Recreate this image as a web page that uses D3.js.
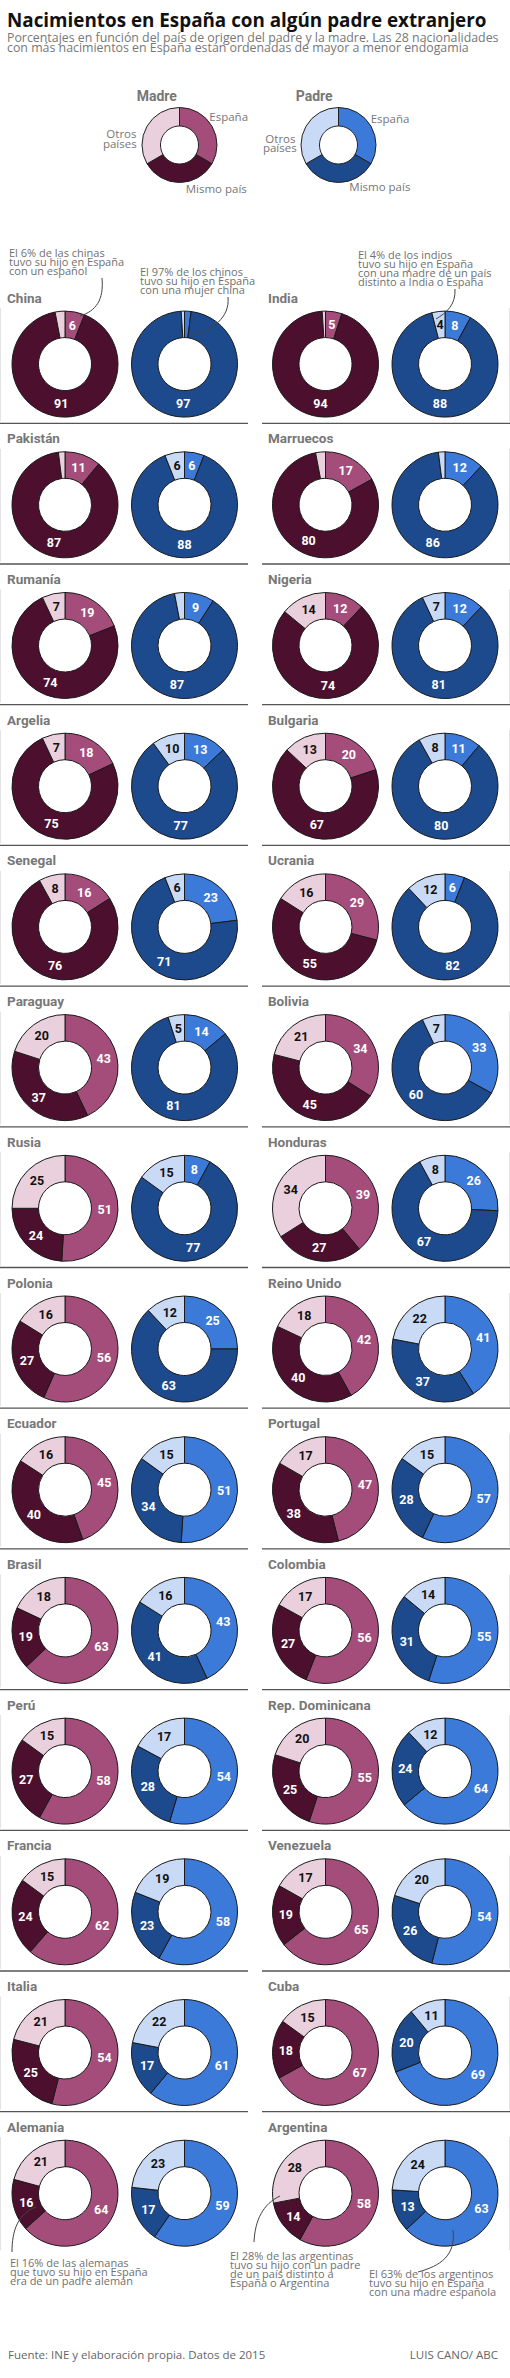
<!DOCTYPE html>
<html><head><meta charset="utf-8">
<script src="https://cdn.jsdelivr.net/npm/d3@7"></script>
<style>body{margin:0;background:#fff} svg{display:block}</style>
</head><body>
<svg id="c" width="510" height="2378"></svg>
<script>
// ---- DATA ----
const countries = ["China","India","Pakistán","Marruecos","Rumanía","Nigeria","Argelia","Bulgaria",
  "Senegal","Ucrania","Paraguay","Bolivia","Rusia","Honduras","Polonia","Reino Unido",
  "Ecuador","Portugal","Brasil","Colombia","Perú","Rep. Dominicana","Francia","Venezuela",
  "Italia","Cuba","Alemania","Argentina"];
const segments = ["España","Mismo país","Otros países"];
const madreEspana = [6,5,11,17,19,12,18,20,16,29,43,34,51,39,56,42,45,47,63,56,58,55,62,65,54,67,64,58];
const madreMismo  = [91,94,87,80,74,74,75,67,76,55,37,45,24,27,27,40,40,38,19,27,27,25,24,19,25,18,16,14];
const madreOtros  = [3,1,2,3,7,14,7,13,8,16,20,21,25,34,16,18,16,17,18,17,15,20,15,17,21,15,21,28];
const padreEspana = [2,8,6,12,9,12,13,11,23,6,14,33,8,26,25,41,51,57,43,55,54,64,58,54,61,69,59,63];
const padreMismo  = [97,88,88,86,87,81,77,80,71,82,81,60,77,67,63,37,34,28,41,31,28,24,23,26,17,20,17,13];
const padreOtros  = [1,4,6,2,3,7,10,8,6,12,5,7,15,8,12,22,15,15,16,14,17,12,19,20,22,11,23,24];
const legendValues = [1,1,1];

const title = "Nacimientos en España con algún padre extranjero";
const subtitle = ["Porcentajes en función del país de origen del padre y la madre. Las 28 nacionalidades",
                  "con más nacimientos en España están ordenadas de mayor a menor endogamia"];
const source = "Fuente: INE y elaboración propia. Datos de 2015";
const credit = "LUIS CANO/ ABC";

// ---- STYLE ----
const colorsMadre = ['#a44d7a','#4c0f2e','#ead0dd'];
const colorsPadre = ['#3c7ad9','#1c4a8c','#c8daf5'];
const labelColors = ['#fff','#fff','#111'];
const gray = '#777';

const svg = d3.select('#c');
const pie = d3.pie().sort(null).value(d => d);
const R = 53, r = 26.5;
const arcBig = d3.arc().innerRadius(r).outerRadius(R);
const arcLeg = d3.arc().innerRadius(19).outerRadius(37.5);

function fitWidth(sel, w){
  const l = sel.node().getComputedTextLength();
  const fs = parseFloat(sel.attr('font-size'));
  const nf = fs * w / l;
  sel.attr('font-size', nf);
  return nf;
}

// ---- HEADER ----
const t = svg.append('text').attr('x',7).attr('y',26.7).text(title)
  .attr('font-family','"Open Sans"').attr('font-weight',700).attr('font-size',18).attr('fill','#111');
fitWidth(t, 480);
const s1 = svg.append('text').attr('x',7).attr('y',42.3).text(subtitle[0])
  .attr('font-family','"Open Sans"').attr('font-size',11.5).attr('fill',gray);
const sfs = fitWidth(s1, 492);
svg.append('text').attr('x',7).attr('y',52.3).text(subtitle[1])
  .attr('font-family','"Open Sans"').attr('font-size',sfs).attr('fill',gray);

// ---- LEGEND ----
function legend(cx, cy, colors, name, nameX, labels){
  const g = svg.append('g').attr('transform',`translate(${cx},${cy})`);
  g.selectAll('path').data(pie(legendValues)).join('path')
    .attr('d', arcLeg).attr('fill',(d,i)=>colors[i]).attr('stroke','#222').attr('stroke-width',1);
  svg.append('text').attr('x',nameX).attr('y',100.7).text(name)
    .attr('font-family','Roboto').attr('font-weight',700).attr('font-size',14).attr('fill',gray);
  labels.forEach(l=>{
    svg.append('text').attr('x',l[0]).attr('y',l[1]).attr('text-anchor',l[3]||'start').text(l[2])
      .attr('font-family','"Open Sans"').attr('font-size',11.5).attr('fill',gray);
  });
}
legend(179.5,145,colorsMadre,'Madre',136.7,[[209.3,120.7,'España'],[136.5,138.3,'Otros','end'],[136.7,147.7,'países','end'],[185.7,192.5,'Mismo país']]);
legend(338.5,145,colorsPadre,'Padre',295.7,[[370.7,123.3,'España'],[295.5,142.7,'Otros','end'],[296.7,151.7,'países','end'],[349.3,190.7,'Mismo país']]);

// ---- GRID ----
const rowY = d3.scaleLinear().domain([0,13]).range([364.1, 364.1 + 140.7*13]);
const colOff = [0, 261];
const cellCx = [65, 184.5];

// separators
for (let i=0;i<13;i++){
  const y = rowY(i) + 59.2;
  svg.append('line').attr('x1',0).attr('x2',248).attr('y1',y).attr('y2',y).attr('stroke','#555').attr('stroke-width',1.3);
  svg.append('line').attr('x1',262).attr('x2',510).attr('y1',y).attr('y2',y).attr('stroke','#555').attr('stroke-width',1.3);
}
// faint side borders
for (let i=0;i<14;i++){
  const y = rowY(i);
  [0.5,509.5].forEach(x=>svg.append('line').attr('x1',x).attr('x2',x).attr('y1',y-56).attr('y2',y+57)
    .attr('stroke','#e3e3e3').attr('stroke-width',1));
}

countries.forEach((c,k)=>{
  const row = Math.floor(k/2), col = k%2;
  const cy = rowY(row);
  svg.append('text').attr('x',colOff[col]+7).attr('y',cy-61.5).text(c)
    .attr('font-family','Roboto').attr('font-weight',700).attr('font-size',13.5).attr('fill',gray);
  const sets = [
    {vals:[madreEspana[k],madreMismo[k],madreOtros[k]], colors:colorsMadre},
    {vals:[padreEspana[k],padreMismo[k],padreOtros[k]], colors:colorsPadre}
  ];
  sets.forEach((st,j)=>{
    const cx = colOff[col] + cellCx[j] - (col===1 ? 0.5 : 0);
    const g = svg.append('g').attr('transform',`translate(${cx},${cy})`);
    const arcs = pie(st.vals);
    g.selectAll('path').data(arcs).join('path')
      .attr('d',arcBig).attr('fill',(d,i)=>st.colors[i]).attr('stroke','#1a1a1a').attr('stroke-width',1);
    g.selectAll('text').data(arcs.filter(d=>d.data>=4)).join('text')
      .attr('transform',d=>`translate(${arcBig.centroid(d)})`)
      .attr('text-anchor','middle').attr('dy','0.36em')
      .attr('font-family','Roboto').attr('font-weight',700).attr('font-size',12.5)
      .attr('fill',d=>labelColors[d.index])
      .text(d=>d.data);
  });
});

// ---- ANNOTATIONS ----
const annotations = [
  {lines:["El 6% de las chinas","tuvo su hijo en España","con un español"], x:9, y:257, path:"M102,278 C104,300 96,311 80,316"},
  {lines:["El 97% de los chinos","tuvo su hijo en España","con una mujer china"], x:140, y:276, path:"M228,297 C230,318 212,330 192,336"},
  {lines:["El 4% de los indios","tuvo su hijo en España","con una madre de un país","distinto a India o España"], x:358, y:259, path:"M455,289 C456,305 446,313 436,319"},
  {lines:["El 16% de las alemanas","que tuvo su hijo en España","era de un padre alemán"], x:10, y:2267, path:"M36,2207 C18,2214 12,2230 12,2252"},
  {lines:["El 28% de las argentinas","tuvo su hijo con un padre","de un país distinto a","España o Argentina"], x:230, y:2260, path:"M280,2196 C263,2204 255,2220 254,2242"},
  {lines:["El 63% de los argentinos","tuvo su hijo en España","con una madre española"], x:369, y:2278, path:"M453,2230 C456,2256 440,2266 418,2272"}
];
annotations.forEach(a=>{
  svg.append('path').attr('d',a.path).attr('fill','none').attr('stroke','#444').attr('stroke-width',1);
  a.lines.forEach((l,i)=>{
    svg.append('text').attr('x',a.x).attr('y',a.y + i*9).text(l)
      .attr('font-family','"Open Sans"').attr('font-size',11).attr('fill','#707070');
  });
});

// ---- FOOTER ----
svg.append('text').attr('x',8).attr('y',2359).text(source)
  .attr('font-family','"Open Sans"').attr('font-size',11.5).attr('fill','#666');
svg.append('text').attr('x',498).attr('y',2359).attr('text-anchor','end').text(credit)
  .attr('font-family','"Open Sans"').attr('font-size',11.5).attr('fill','#666');
</script>
</body></html>
